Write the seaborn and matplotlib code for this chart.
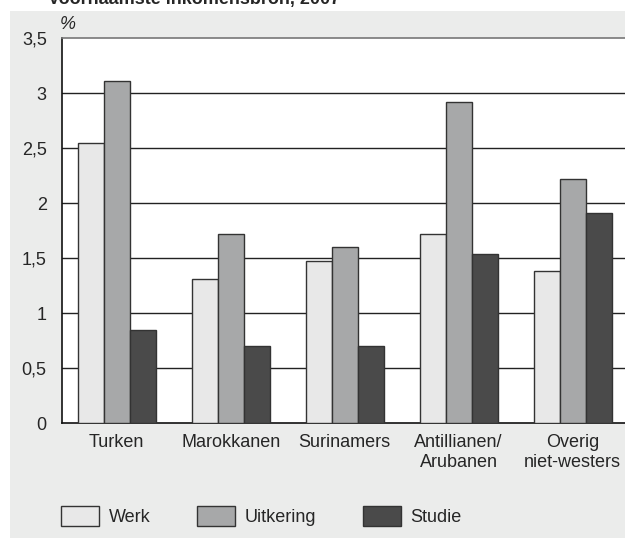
import pandas as pd
import matplotlib
matplotlib.use("Agg")
import matplotlib.pyplot as plt
import seaborn as sns
from matplotlib.patches import Rectangle

# Data (percentages)
groups = ["Turken", "Marokkanen", "Surinamers", "Antillianen/\nArubanen", "Overig\nniet-westers"]
werk = [2.55, 1.31, 1.47, 1.72, 1.38]
uitkering = [3.11, 1.72, 1.60, 2.92, 2.22]
studie = [0.85, 0.70, 0.70, 1.54, 1.91]
series = ["Werk", "Uitkering", "Studie"]
y_ticks = [0, 0.5, 1, 1.5, 2, 2.5, 3, 3.5]
y_labels = ["0", "0,5", "1", "1,5", "2", "2,5", "3", "3,5"]

df = pd.DataFrame({
    "groep": groups * 3,
    "bron": [s for s in series for _ in groups],
    "pct": werk + uitkering + studie,
})

sns.set_style("white")
plt.rcParams["font.family"] = ["Liberation Sans", "DejaVu Sans"]

fig = plt.figure(figsize=(6.25, 5.38), dpi=100)
fig.patches.append(Rectangle((10 / 625, 0), 1, 1 - 11 / 538, transform=fig.transFigure,
                             facecolor="#ebeceb", edgecolor="none", zorder=-10))
fig.text(48 / 625, 1 - 4 / 538, "Voornaamste inkomensbron, 2007", fontsize=13,
         fontweight="bold", va="baseline", ha="left")

ax = fig.add_axes([62 / 625, 1 - 423 / 538, 563 / 625, 385 / 538])
ax.set_facecolor("white")
palette = {"Werk": "#e8e8e8", "Uitkering": "#a7a8a9", "Studie": "#4a4a4a"}
sns.barplot(data=df, x="groep", y="pct", hue="bron", palette=palette, width=0.684,
            edgecolor="#333333", linewidth=1, saturation=1, ax=ax, zorder=3)

for y in y_ticks[1:-1]:
    ax.axhline(y, color="#222222", lw=1, zorder=1)

ax.set_ylim(0, 3.5)
ax.set_xlim(-0.48, 4.46)
ax.set_yticks(y_ticks)
ax.set_yticklabels(y_labels)
ax.set_xlabel("")
ax.set_ylabel("")
ax.tick_params(axis="y", length=0, pad=11, labelsize=13)
ax.tick_params(axis="x", length=0, pad=8, labelsize=13)
ax.spines["left"].set_color("#111111")
ax.spines["bottom"].set_color("#111111")
ax.spines["top"].set_color("#777777")
ax.spines["right"].set_visible(False)
for s in ["left", "bottom", "top"]:
    ax.spines[s].set_linewidth(1.2)

ax.text(-2 / 563, 1.012, "%", transform=ax.transAxes, fontsize=13, style="italic",
        ha="left", va="bottom")

handles, labels = ax.get_legend_handles_labels()
ax.legend_.remove()
fig.legend(handles, labels, loc="center left", bbox_to_anchor=(45 / 625, 1 - 516 / 538),
           ncol=3, frameon=False, fontsize=13, handlelength=2.1, handleheight=1.33,
           handletextpad=0.55, columnspacing=2.56)

fig.savefig("out.png", dpi=100)
